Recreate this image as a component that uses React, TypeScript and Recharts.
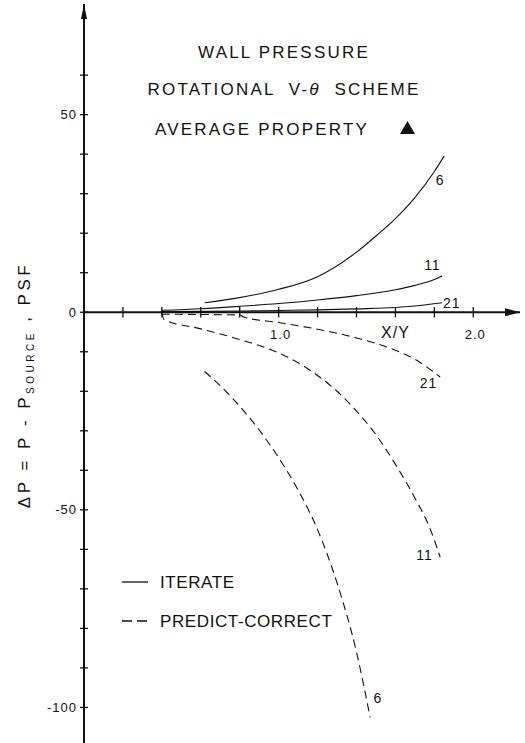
import { LineChart, Line, XAxis, YAxis, ReferenceLine, ReferenceDot } from 'recharts'

// ΔP vs X/Y, solid = iterate, dashed = predict-correct, numbers are grid sizes
const iter6X = [0.62, 0.8, 1.0, 1.2, 1.4, 1.5, 1.6, 1.7, 1.8, 1.85]
const iter6Y = [2.4, 3.7, 5.8, 9.0, 15.2, 19.3, 23.7, 29, 35.6, 39.5]

const iter11X = [0.4, 0.6, 0.8, 1.0, 1.2, 1.4, 1.6, 1.7, 1.8, 1.84]
const iter11Y = [0.5, 0.9, 1.5, 2.2, 3.1, 4.2, 5.7, 6.8, 8.3, 9.2]

const iter21X = [0.4, 0.8, 1.0, 1.2, 1.4, 1.6, 1.7, 1.84]
const iter21Y = [0.2, 0.3, 0.45, 0.6, 0.85, 1.2, 1.6, 2.4]

const pc6X = [0.62, 0.7, 0.8, 0.9, 1.0, 1.1, 1.2, 1.3, 1.4, 1.47]
const pc6Y = [-15, -18.6, -23.8, -29.8, -36.8, -45, -55, -68.5, -86, -102.5]

const pc11X = [0.4, 0.41, 0.6, 0.8, 1.0, 1.1, 1.2, 1.3, 1.4, 1.5, 1.6, 1.7, 1.78, 1.83]
const pc11Y = [0, -1.8, -4.2, -6.9, -10.3, -12.8, -16, -20, -25, -31, -38.5, -47, -55, -62]

const pc21X = [0.4, 0.8, 0.82, 1.0, 1.2, 1.4, 1.6, 1.7, 1.83]
const pc21Y = [-0.5, -0.7, -1.2, -2.6, -4.3, -6.5, -9.6, -11.9, -16.4]

const xTicks = [0.2, 0.4, 0.6, 0.8, 1.0, 1.2, 1.4, 1.6, 1.8, 2.0]
const xTickLabels = [1.0, 2.0]
const yTicks = [60, 50, 40, 30, 20, 10, 0, -10, -20, -30, -40, -50, -60, -70, -80, -90, -100]
const yTickLabels = [50, 0, -50, -100]

// curve tags: [text, x, y]
const curveTags: [string, number, number][] = [
  ['6', 1.83, 33.4],
  ['11', 1.79, 11.9],
  ['21', 1.89, 2.3],
  ['21', 1.77, -18],
  ['11', 1.75, -61.5],
  ['6', 1.51, -97.5],
]

const toPoints = (xs: number[], ys: number[]) => xs.map((x, i) => ({ x, y: ys[i] }))

const W = 525
const H = 743
const AXIS_X = 84
const FONT = '"Liberation Sans", Arial, sans-serif'
const INK = '#111'

const YTick = (props: any) => {
  const { y, payload } = props
  const v = payload.value
  return (
    <g>
      <line x1={AXIS_X - 4} x2={AXIS_X + 4} y1={y} y2={y} stroke={INK} strokeWidth={1.3} />
      {yTickLabels.includes(v) && (
        <text x={AXIS_X - 7} y={y + 4.5} textAnchor="end" fontSize={13} fontFamily={FONT} fill={INK} letterSpacing={1}>
          {String(v)}
        </text>
      )}
    </g>
  )
}

const textShape = (text: string, dx: number, dy: number, size: number) => (p: any) => (
  <text x={p.cx + dx} y={p.cy + dy} textAnchor="middle" fontSize={size} fontFamily={FONT} fill={INK} letterSpacing={1}>
    {text}
  </text>
)

const series = [
  { key: 'i6', data: toPoints(iter6X, iter6Y), dash: undefined },
  { key: 'i11', data: toPoints(iter11X, iter11Y), dash: undefined },
  { key: 'i21', data: toPoints(iter21X, iter21Y), dash: undefined },
  { key: 'p6', data: toPoints(pc6X, pc6Y), dash: '8 5' },
  { key: 'p11', data: toPoints(pc11X, pc11Y), dash: '8 5' },
  { key: 'p21', data: toPoints(pc21X, pc21Y), dash: '8 5' },
]

export default function App() {
  return (
    <div style={{ position: 'absolute', left: 0, top: 0, width: W, height: H, background: '#fff' }}>
      <LineChart width={W} height={H} margin={{ top: 4, right: 5, left: 0, bottom: 0 }}>
        <XAxis type="number" dataKey="x" domain={[0, 2.24]} hide allowDataOverflow />
        <YAxis
          type="number"
          domain={[-109, 78]}
          ticks={yTicks}
          interval={0}
          width={AXIS_X}
          allowDataOverflow
          axisLine={{ stroke: INK, strokeWidth: 2 }}
          tickLine={false}
          tick={<YTick />}
        />
        <ReferenceLine y={0} stroke={INK} strokeWidth={2} />
        {xTicks.map((t) => (
          <ReferenceLine
            key={t}
            segment={[
              { x: t, y: -1.3 },
              { x: t, y: 1.3 },
            ]}
            stroke={INK}
            strokeWidth={1.3}
          />
        ))}
        {xTickLabels.map((t) => (
          <ReferenceDot key={t} x={t} y={0} r={0} ifOverflow="visible" shape={textShape(t.toFixed(1), 2, 27, 13)} />
        ))}
        <ReferenceDot x={1.6} y={0} r={0} ifOverflow="visible" shape={textShape('X/Y', 0, 26, 16)} />
        <ReferenceDot
          x={2.24}
          y={0}
          r={0}
          ifOverflow="visible"
          shape={(p: any) => <path d={`M${p.cx} ${p.cy} L${p.cx - 15} ${p.cy - 4} L${p.cx - 15} ${p.cy + 4} Z`} fill={INK} />}
        />
        <ReferenceDot
          x={0}
          y={78}
          r={0}
          ifOverflow="visible"
          shape={(p: any) => <path d={`M${p.cx} ${p.cy} L${p.cx - 3} ${p.cy + 15} L${p.cx + 3} ${p.cy + 15} Z`} fill={INK} />}
        />
        {series.map((s) => (
          <Line
            key={s.key}
            data={s.data}
            dataKey="y"
            type="monotone"
            dot={false}
            stroke={INK}
            strokeWidth={1.1}
            strokeDasharray={s.dash}
            isAnimationActive={false}
          />
        ))}
        {curveTags.map(([t, x, y], i) => (
          <ReferenceDot key={i} x={x} y={y} r={0} ifOverflow="visible" shape={textShape(t, 0, 5, 14)} />
        ))}
      </LineChart>
      <svg width={W} height={H} style={{ position: 'absolute', left: 0, top: 0, pointerEvents: 'none' }}>
        <g fontFamily={FONT} fontSize={17} fill={INK} textAnchor="middle" letterSpacing={2.2}>
          <text x={284} y={58}>WALL PRESSURE</text>
          <text x={284} y={94.5} style={{ whiteSpace: 'pre' }}>
            ROTATIONAL  V-<tspan fontStyle="italic">θ</tspan>  SCHEME
          </text>
          <text x={262} y={134.5}>AVERAGE PROPERTY</text>
        </g>
        <path d="M400 134 L407.5 121 L415 134 Z" fill={INK} />
        <g stroke={INK} strokeWidth={1.3}>
          <line x1={122} x2={148} y1={582} y2={582} />
          <line x1={122} x2={148} y1={621} y2={621} strokeDasharray="10 5" />
        </g>
        <g fontFamily={FONT} fontSize={17} fill={INK} letterSpacing={0.6}>
          <text x={160} y={588}>ITERATE</text>
          <text x={160} y={627}>PREDICT-CORRECT</text>
        </g>
        <text
          transform="translate(30 385) rotate(-90)"
          textAnchor="middle"
          fontFamily={FONT}
          fontSize={17}
          fill={INK}
          letterSpacing={3.5}
          style={{ whiteSpace: 'pre' }}
        >
          ΔP = P - P<tspan fontSize={10} dy={4}>SOURCE</tspan>
          <tspan dy={-4}> , PSF</tspan>
        </text>
      </svg>
    </div>
  )
}
